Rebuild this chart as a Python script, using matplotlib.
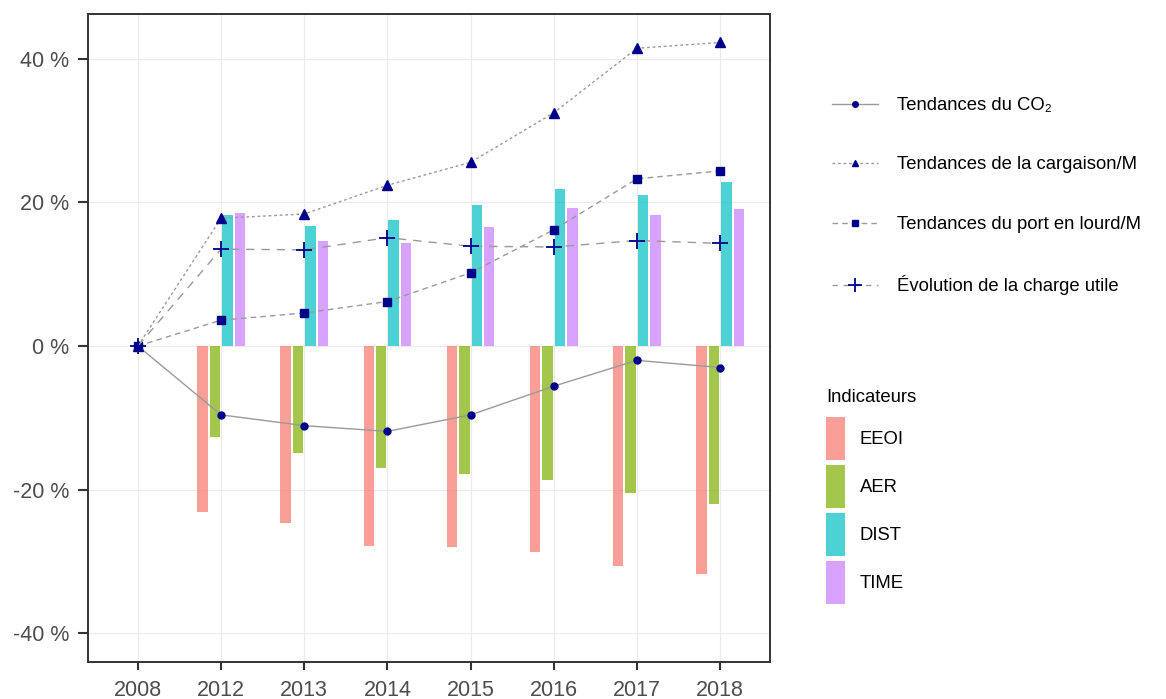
import numpy as np
import matplotlib
matplotlib.use('Agg')
import matplotlib.pyplot as plt
from matplotlib.lines import Line2D
from matplotlib.patches import Patch

plt.rcParams['font.family'] = ['Liberation Sans', 'DejaVu Sans']

years = ['2008', '2012', '2013', '2014', '2015', '2016', '2017', '2018']

# bar indicators (% change vs 2008)
indicators = ['EEOI', 'AER', 'DIST', 'TIME']
eeoi = [0, -23.1, -24.7, -27.9, -28.0, -28.7, -30.7, -31.8]
aer = [0, -12.7, -14.9, -17.0, -17.9, -18.7, -20.5, -22.0]
dist = [0, 18.2, 16.7, 17.6, 19.6, 21.9, 21.0, 22.9]
time_ = [0, 18.6, 14.6, 14.3, 16.6, 19.3, 18.2, 19.1]

# trend lines
co2 = [0, -9.6, -11.1, -11.9, -9.6, -5.6, -2.0, -3.0]
cargo = [0, 17.8, 18.4, 22.4, 25.6, 32.5, 41.5, 42.3]
dwt = [0, 3.6, 4.6, 6.2, 10.2, 16.2, 23.3, 24.4]
payload = [0, 13.5, 13.4, 15.1, 13.9, 13.8, 14.7, 14.3]

line_labels = ['Tendances du CO\u2082', 'Tendances de la cargaison/M',
               'Tendances du port en lourd/M', '\u00c9volution de la charge utile']

bar_colors = ['#F8766D', '#7CAE00', '#00BFC4', '#C77CFF']

fig = plt.figure(figsize=(11.66, 6.99), dpi=100)
ax = fig.add_axes([88 / 1166, 37 / 699, (770 - 88) / 1166, (662 - 14) / 699])

x = np.arange(1, len(years) + 1)
slot = 0.15
bw = 0.125
for i, (vals, col) in enumerate(zip([eeoi, aer, dist, time_], bar_colors)):
    off = (i - 1.5) * slot
    ax.bar(x[1:] + off, vals[1:], width=bw, color=col, alpha=0.7, zorder=2,
           linewidth=0)

lcol = '#9a9a9a'
mcol = '#00008B'
lw = 1.0
ax.plot(x, co2, color=lcol, lw=lw, ls='-', marker='o', ms=5, mfc=mcol, mec=mcol, zorder=3)
ax.plot(x, cargo, color=lcol, lw=lw, ls=(0, (2, 2)), marker='^', ms=6.5, mfc=mcol, mec=mcol, zorder=3)
ax.plot(x, dwt, color=lcol, lw=lw, ls=(0, (4, 3)), marker='s', ms=6, mfc=mcol, mec=mcol, zorder=3)
ax.plot(x, payload, color=lcol, lw=lw, ls=(0, (6, 5)), marker='+', ms=11, mew=1.3, mfc=mcol, mec=mcol, zorder=3)

ax.set_xlim(0.4, 8.6)
ax.set_ylim(-44.04, 46.27)
ax.set_xticks(x)
ax.set_xticklabels(years)
yt = [-40, -20, 0, 20, 40]
ax.set_yticks(yt)
ax.set_yticklabels([f'{v} %' for v in yt])
ax.tick_params(colors='#333333', labelcolor='#4D4D4D', labelsize=15.5, width=1.5)
ax.tick_params(axis='x', length=5.5, pad=7.5)
ax.tick_params(axis='y', length=7.5, pad=6)
ax.grid(True, color='#EBEBEB', lw=0.8, zorder=0)
ax.set_axisbelow(True)
for s in ax.spines.values():
    s.set_color('#333333')
    s.set_linewidth(1.4)

# legends
line_handles = [
    Line2D([], [], color=lcol, lw=lw, ls='-', marker='o', ms=4, mfc=mcol, mec=mcol),
    Line2D([], [], color=lcol, lw=lw, ls=(0, (2, 2)), marker='^', ms=5, mfc=mcol, mec=mcol),
    Line2D([], [], color=lcol, lw=lw, ls=(0, (4, 3)), marker='s', ms=5, mfc=mcol, mec=mcol),
    Line2D([], [], color=lcol, lw=lw, ls=(0, (4, 4)), marker='+', ms=10, mew=1.3, mfc=mcol, mec=mcol),
]
leg1 = fig.legend(line_handles, line_labels, loc='upper left',
                  bbox_to_anchor=(832 / 1166, 1 - 97 / 699), frameon=False,
                  fontsize=13.3, handlelength=2.5, handletextpad=1.03,
                  labelspacing=2.3, borderpad=0, borderaxespad=0)

bar_handles = [Patch(facecolor=c, alpha=0.7, edgecolor='none') for c in bar_colors]
leg2 = fig.legend(bar_handles, indicators, loc='upper left', title='Indicateurs',
                  bbox_to_anchor=(826 / 1166, 1 - 389 / 699), frameon=False,
                  fontsize=13.3, title_fontsize=13.3, handlelength=1.04, handleheight=3.21,
                  handletextpad=0.8, labelspacing=0.27, borderpad=0, borderaxespad=0)
leg2._legend_box.align = 'left'
leg2._legend_box.sep = 8

fig.savefig('out.png', dpi=100)
